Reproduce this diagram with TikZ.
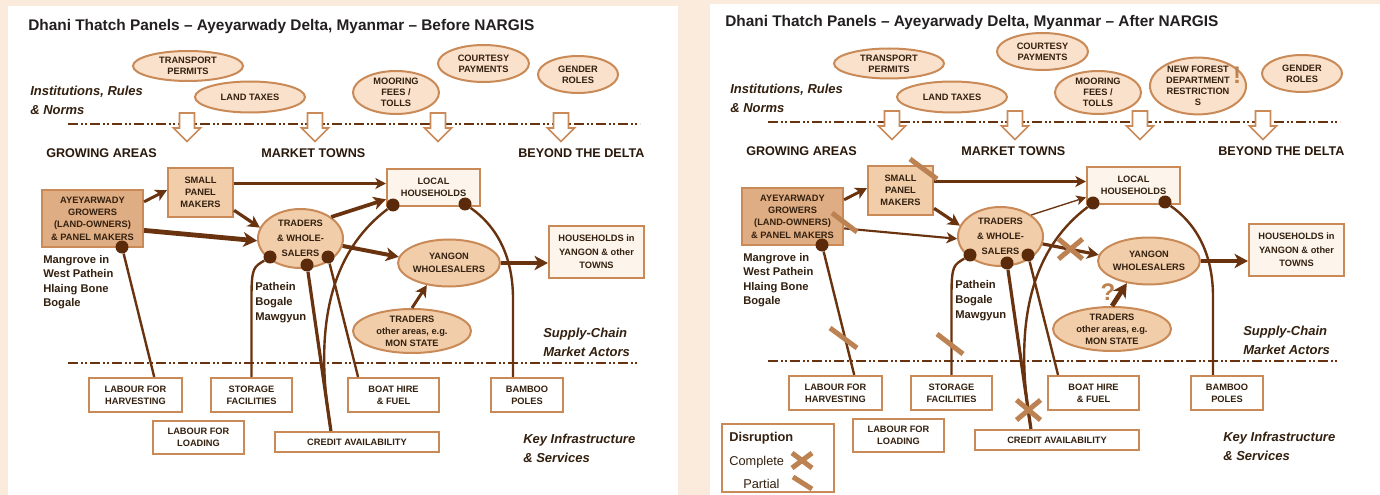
\documentclass[tikz,border=0pt]{standalone}
\usepackage{fontspec}
\setmainfont{Liberation Sans}
\usetikzlibrary{shapes.geometric,arrows.meta,calc}
\definecolor{bgc}{HTML}{FBEBDD}
\definecolor{tanc}{HTML}{C98A57}
\definecolor{growc}{HTML}{DFAD83}
\definecolor{midc}{HTML}{F1CDAA}
\definecolor{instc}{HTML}{FAE1CB}
\definecolor{lightc}{HTML}{FDF5EC}
\definecolor{linec}{HTML}{6A3310}
\definecolor{dotc}{HTML}{5A2A0B}
\definecolor{markc}{HTML}{BC8251}
\definecolor{txtc}{HTML}{33200F}
\definecolor{hdc}{HTML}{2A180A}
\definecolor{titc}{HTML}{231F20}
\tikzset{
  x=0.75pt, y=-0.75pt,
  sz/.style 2 args={minimum width=#1*0.75pt, minimum height=#2*0.75pt},
  bs/.style={font=\bfseries\fontsize{6.95}{#1}\selectfont},
  txt/.style={bs=9.1, text=txtc, align=center, inner sep=0pt},
  boxn/.style={txt, rectangle, draw=tanc, line width=1.6pt, fill=white},
  lbox/.style={boxn, fill=lightc},
  gbox/.style={boxn, fill=growc},
  mbox/.style={boxn, fill=midc},
  inst/.style={txt, bs=8.3, ellipse, draw=tanc, line width=1.5pt, fill=instc},
  actor/.style={txt, ellipse, draw=tanc, line width=1.5pt, fill=midc},
  dotn/.style={circle, fill=dotc, inner sep=0pt, minimum size=9.75pt},
  flow/.style={draw=linec, -{Stealth[length=6pt 1.2, width=6pt 1.4, inset=1.5pt 0.4]}},
  link/.style={draw=linec, line width=1.8pt},
  sepline/.style={draw=linec, line width=1.5pt, dash pattern=on 7.5pt off 2.2pt on 1.2pt off 2.2pt on 1.2pt off 2.2pt},
  hdr/.style={font=\bfseries\fontsize{9.45}{11}\selectfont, text=hdc, inner sep=0pt, anchor=base west},
  ital/.style={font=\bfseries\itshape\fontsize{9.75}{14.25}\selectfont, text=txtc, inner sep=0pt, anchor=north west, align=left},
  placetxt/.style={font=\bfseries\fontsize{8.4}{#1}\selectfont, text=txtc, inner sep=0pt, anchor=north west, align=left},
  ttl/.style={font=\bfseries\fontsize{11.55}{14}\selectfont, text=titc, inner sep=0pt, anchor=base west},
  dmark/.style={draw=markc, line width=3.75pt},
  tanbig/.style={font=\bfseries\fontsize{18}{20}\selectfont, text=markc, inner sep=0pt},
  legt/.style={font=\fontsize{9.6}{11}\selectfont, text=txtc, inner sep=0pt, anchor=base west},
  blockarr/.pic={\draw[draw=tanc, line width=1.3pt, fill=white] (-7.5,0)--(7.5,0)--(7.5,15)--(13.5,15)--(0,28.5)--(-13.5,15)--(-7.5,15)--cycle;},
}
\newcommand\panelbody{%
  \draw[sepline] (68,124) -- (640,124);
  \draw[sepline] (68,362.5) -- (638,362.5);
  \foreach \ax in \arrowxs {\pic at (\ax,113) {blockarr};}
  \node[hdr] (ga) at (46,158) {GROWING AREAS};
  \node[hdr] (mt) at (261,158) {MARKET TOWNS};
  \node[hdr] (bd) at (518,158) {BEYOND THE DELTA};
  \node[ital] (irn) at (30,86) {Institutions, Rules\\\& Norms};
  \node[ital] (sca) at (543,328) {Supply-Chain\\Market Actors};
  \node[ital] (kis) at (523,434.3) {Key Infrastructure\\\& Services};
  \node[placetxt=10.9] (mang) at (43,255) {Mangrove in\\West Pathein\\Hlaing Bone\\Bogale};
  \node[placetxt=11.25] (pbm) at (255,282) {Pathein\\Bogale\\Mawgyun};
  % actors
  \node[gbox, sz={101}{57}, bs=9.2] (grow) at (92.5,218.5) {AYEYARWADY\\GROWERS\\(LAND-OWNERS)\\\& PANEL MAKERS};
  \node[mbox, sz={65}{49}, bs=9.2] (spm) at (200.5,192.5) {SMALL\\PANEL\\MAKERS};
  \node[lbox, sz={93}{37}] (lh) at (433.5,187.5) {LOCAL\\HOUSEHOLDS};
  \node[lbox, sz={95}{52}, bs=10] (hy) at (596.5,252) {HOUSEHOLDS in\\YANGON \& other\\TOWNS};
  \node[actor, sz={85}{59}, bs=11.25] (trad) at (300.5,238.5) {TRADERS\\\& WHOLE-\\SALERS};
  \node[actor, sz={86}{47}, bs=9.5] (yw) at (449,263) {YANGON\\WHOLESALERS};
  \node[actor, sz={118}{44}] (toa) at (412,331) {TRADERS\\other areas, e.g.\\MON STATE};
  % infrastructure
  \node[boxn, sz={93}{34}] (lfh) at (135.5,395) {LABOUR FOR\\HARVESTING};
  \node[boxn, sz={81}{34}] (sto) at (251.5,395) {STORAGE\\FACILITIES};
  \node[boxn, sz={91}{33}] (lfl) at (198.5,437.5) {LABOUR FOR\\LOADING};
  \node[boxn, sz={164}{20}] (cred) at (357,442) {CREDIT AVAILABILITY};
  \node[boxn, sz={91}{34}] (boat) at (393.5,395) {BOAT HIRE\\\& FUEL};
  \node[boxn, sz={72}{34}] (bam) at (527,395) {BAMBOO\\POLES};
  % dots
  \node[dotn] (gd) at ($(grow.center)+(29.5,28.5)$) {};
  \node[dotn] (td1) at ($(trad.center)+(-30.5,18.5)$) {};
  \node[dotn] (td2) at ($(trad.center)+(6.5,26.5)$) {};
  \node[dotn] (td3) at ($(trad.center)+(27.5,18.5)$) {};
  \node[dotn] (hd1) at ($(lh.center)+(-40.5,17.5)$) {};
  \node[dotn] (hd2) at ($(lh.center)+(31.5,16.5)$) {};
  % links to infrastructure
  \draw[link] (gd) -- (lfh.44);
  \draw[link] (td1) .. controls +(-16,10) and +(0,-30) .. ($(sto.north)+(0,-80)$) -- (sto.north);
  \draw[link, line width=2.4pt] (td2) -- (cred.157);
  \draw[link] (td3) -- (boat.153);
  \draw[link] (hd1) .. controls (340,245) and (310,310) .. (cred.157);
  \draw[link] (hd2) .. controls +(30,21) and +(0,-45) .. ($(bam.north)+(-14,-78)$) -- ($(bam.north)+(-14,0)$);
  % common flows
  \draw[flow, line width=2.2pt] (grow.18) -- (spm.176);
  \draw[flow, line width=1.6pt] (spm.15) -- (spm.15 -| lh.west);
  \draw[flow, line width=2.4pt] (spm.-28) -- (trad.165);
  \draw[flow, line width=3.4pt] (yw.east) -- (yw.east -| hy.west);
}
\begin{document}
\begin{tikzpicture}
\useasboundingbox (0,0) rectangle (1380,495);
\fill[bgc] (0,0) rectangle (1380,495);
\fill[white] (8,6) rectangle (678,495);
\fill[white] (710,4) rectangle (1380,495);
% ---------------- LEFT: before
\begin{scope}[name prefix=L-]
  \def\arrowxs{187,315,438,561}
  \panelbody
  \node[ttl] (title) at (28,30.7) {Dhani Thatch Panels -- Ayeyarwady Delta, Myanmar -- Before NARGIS};
  \node[inst, sz={110}{30}] (tp) at (188,66) {TRANSPORT\\PERMITS};
  \node[inst, sz={110}{31}] (lt) at (250,97) {LAND TAXES};
  \node[inst, sz={86}{43}] (mf) at (396,92.5) {MOORING\\FEES /\\TOLLS};
  \node[inst, sz={91}{37}] (cp) at (483.5,63.5) {COURTESY\\PAYMENTS};
  \node[inst, sz={80}{37}] (gr) at (578,74.5) {GENDER\\ROLES};
  \draw[flow, line width=3.6pt] (grow.-13) -- (trad.183);
  \draw[flow, line width=2.8pt] (trad.35) -- (lh.194);
  \draw[flow, line width=3pt] (trad.-10) -- (yw.173);
  \draw[flow, line width=2.2pt] (toa.north) -- (yw.-135);
\end{scope}
% ---------------- RIGHT: after
\begin{scope}[shift={(700,-2)}, name prefix=R-]
  \def\arrowxs{192,315,440,563}
  \panelbody
  \node[ttl] (title) at (25,28.7) {Dhani Thatch Panels -- Ayeyarwady Delta, Myanmar -- After NARGIS};
  \node[inst, sz={110}{30}] (tp) at (189,65.5) {TRANSPORT\\PERMITS};
  \node[inst, sz={110}{31}] (lt) at (252,99) {LAND TAXES};
  \node[inst, sz={86}{43}] (mf) at (398,94.5) {MOORING\\FEES /\\TOLLS};
  \node[inst, sz={91}{37}] (cp) at (342.5,53.5) {COURTESY\\PAYMENTS};
  \node[inst, sz={96}{54}, bs=8.4] (nf) at (498,88) {NEW FOREST\\DEPARTMENT\\RESTRICTION\\S};
  \node[inst, sz={80}{37}] (gr) at (602,75.5) {GENDER\\ROLES};
  \node[tanbig] (ex) at (537,77) {!};
  \draw[flow, line width=1.6pt] (grow.-13) -- (trad.183);
  \draw[flow, line width=1pt] (trad.35) -- (lh.194);
  \draw[flow, line width=2.4pt] (trad.-10) -- (yw.173);
  \draw[flow, line width=3.6pt] (toa.north) -- (yw.-135);
  \node[tanbig] (q) at (408,294) {?};
  % disruption marks
  \draw[dmark] (210,161) -- (237,181);
  \draw[dmark] (132,215) -- (157,234);
  \draw[dmark] (130,330) -- (157,350);
  \draw[dmark] (237,336) -- (263,356);
  \draw[dmark] (358.5,241) -- (382.5,261) (358.5,261) -- (382.5,241);
  \draw[dmark] (316.5,402) -- (340.5,422) (316.5,422) -- (340.5,402);
  % legend
  \node[draw=tanc, line width=1.5pt, fill=white, sz={112}{68}, inner sep=0pt] (legend) at (78,460) {};
  \node[legt, font=\bfseries\fontsize{9.6}{11}\selectfont] (ldis) at (29,443) {Disruption};
  \node[legt] (lcom) at (29,467) {Complete};
  \node[legt] (lpar) at (43,490.3) {Partial};
  \draw[dmark] (92,455) -- (112,470) (92,470) -- (112,455);
  \draw[dmark] (93,479) -- (112,491);
\end{scope}
\end{tikzpicture}
\end{document}
